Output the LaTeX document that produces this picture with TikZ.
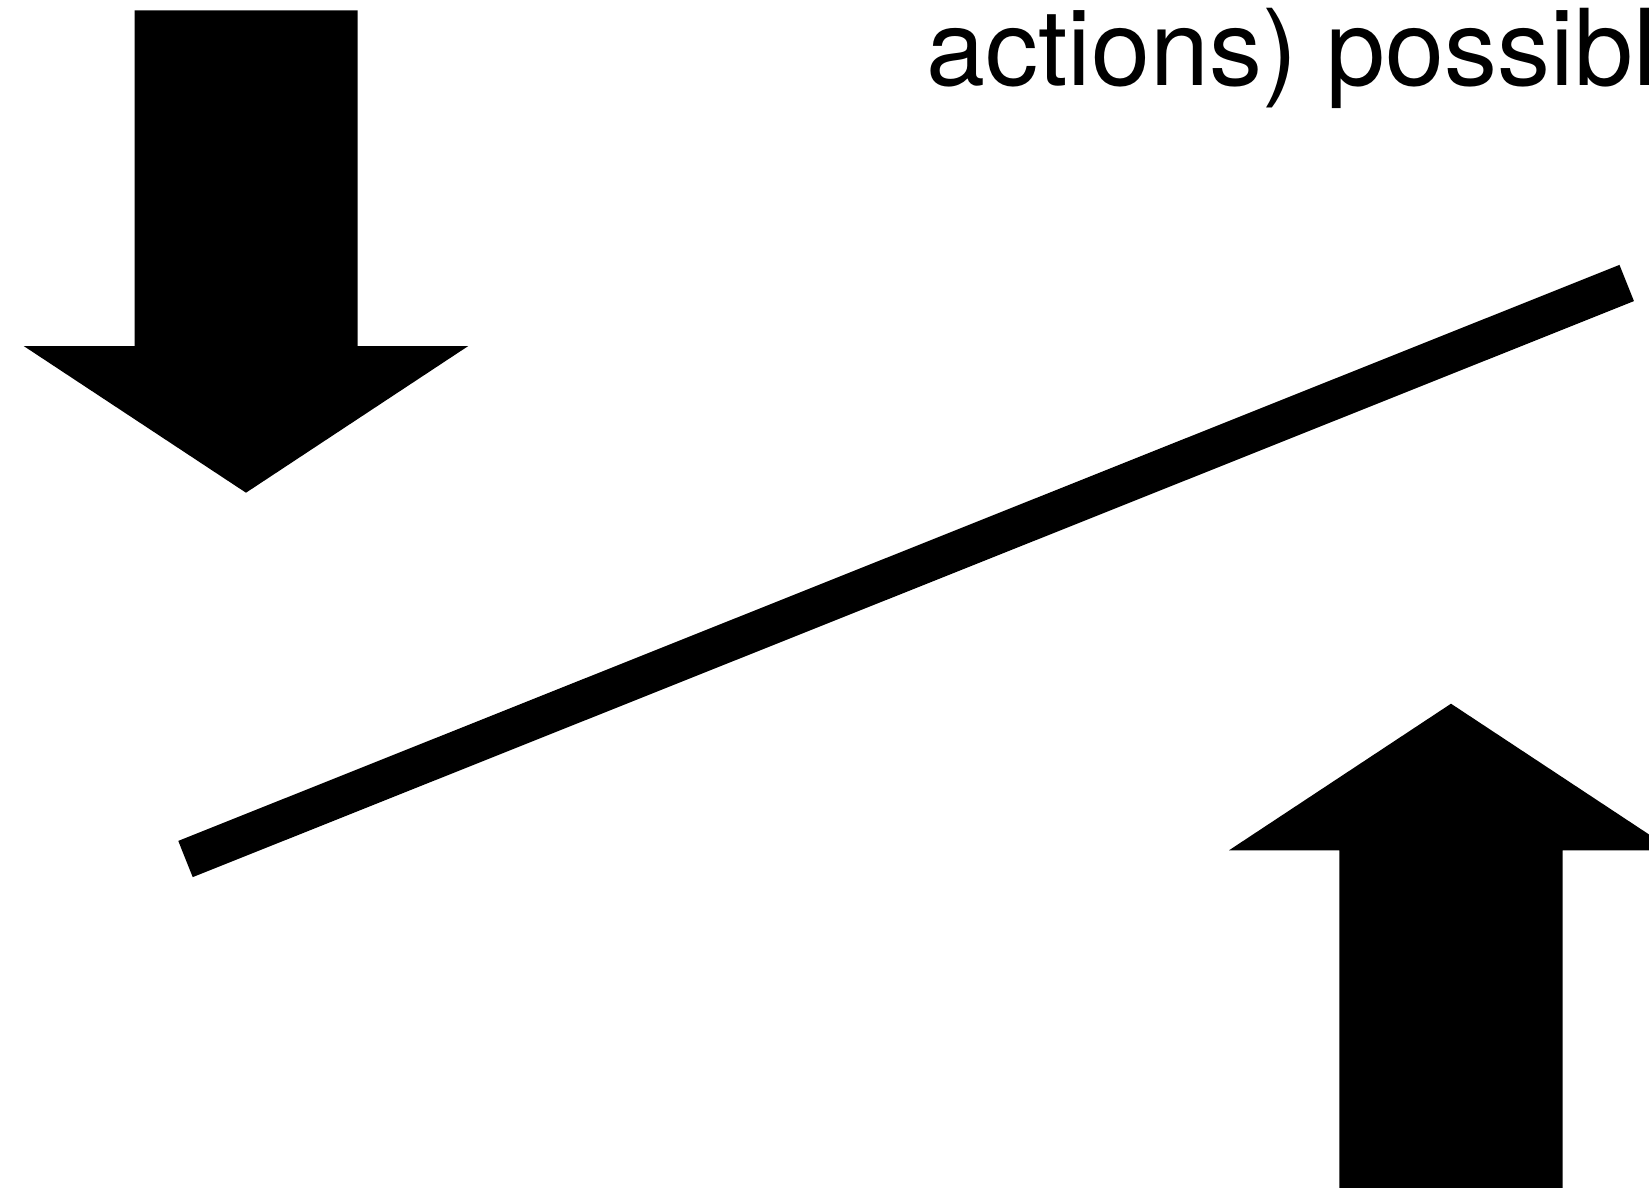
\documentclass[tikz,border=0pt]{standalone}
\usepackage{fontspec}
\setmainfont{TeX Gyre Heros}
\begin{document}
\begin{tikzpicture}[x=1pt,y=-1pt,
  blockarrow/.style={fill=black,draw=none},
  barline/.style={line width=39pt,line cap=butt}]
\useasboundingbox (0,0) rectangle (1649,1187);
\clip (0,0) rectangle (1649,1187);
% down arrow
\fill[blockarrow] (134.7,10.3) -- (357.7,10.3) -- (357.7,346) -- (468.3,346)
  -- (246,492.7) -- (23.7,346) -- (134.7,346) -- cycle;
% up arrow
\fill[blockarrow] (1339.3,1190) -- (1339.3,850.3) -- (1229,850.3) -- (1451,703.7)
  -- (1673,850.3) -- (1562.7,850.3) -- (1562.7,1190) -- cycle;
% diagonal bar
\coordinate (l1) at (185.5,859);
\coordinate (l2) at (1626.7,283);
\draw[barline] (l1) -- (l2);
% text
\node[anchor=base west,inner sep=0pt,font=\fontsize{106}{127}\selectfont] (txt) at (926,85) {actions) possibl};
\end{tikzpicture}
\end{document}
